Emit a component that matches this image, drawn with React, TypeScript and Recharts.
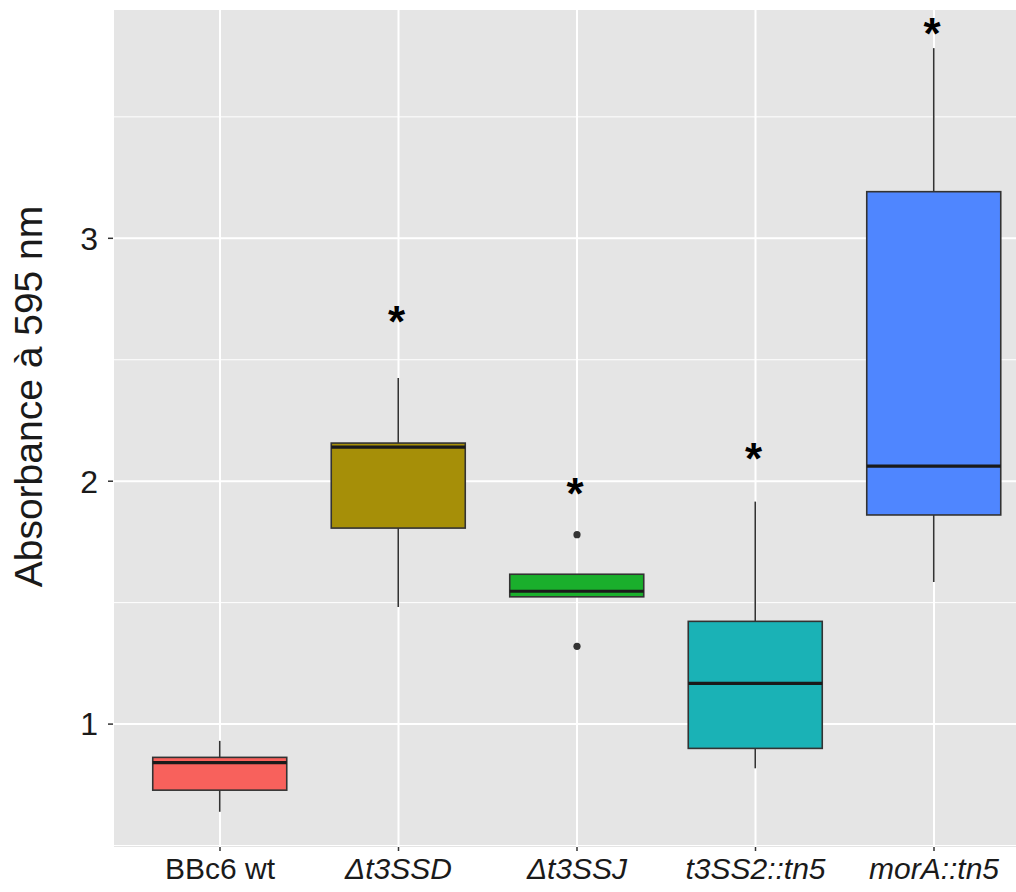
import {
  ComposedChart,
  Bar,
  Line,
  XAxis,
  YAxis,
  CartesianGrid,
} from "recharts";

const categories = ["BBc6 wt", "Δt3SSD", "Δt3SSJ", "t3SS2::tn5", "morA::tn5"];
const italicLabel = [false, true, true, true, true];
const whiskerLow = [0.639, 1.482, 1.524, 0.818, 1.585];
const q1 = [0.728, 1.807, 1.524, 0.9, 1.861];
const median = [0.841, 2.14, 1.547, 1.168, 2.062];
const q3 = [0.863, 2.157, 1.617, 1.423, 3.192];
const whiskerHigh = [0.931, 2.425, 1.617, 1.916, 3.783];
const outlierHigh = [null, null, 1.78, null, null];
const outlierLow = [null, null, 1.32, null, null];
const starAt = [null, 2.677, 1.972, 2.116, 3.866];
const boxColors = ["#F8615C", "#A68F08", "#1AAF2C", "#1AB2B6", "#4F86FF"];

const yTicks = [1, 2, 3];
const yMinor = [0.5, 1.5, 2.5, 3.5];

const data = categories.map((name, i) => ({
  name,
  lo: whiskerLow[i],
  q1: q1[i],
  med: median[i],
  q3: q3[i],
  hi: whiskerHigh[i],
  outHi: outlierHigh[i],
  outLo: outlierLow[i],
  star: starAt[i],
  color: boxColors[i],
}));

// box + whiskers drawn from the range bar (whisker low .. whisker high)
const BoxShape = (props: any) => {
  const { x, y, width, height, payload } = props;
  const top = Math.min(y, y + height);
  const h = Math.abs(height);
  const k = h / (payload.hi - payload.lo);
  const py = (v: number) => top + (payload.hi - v) * k;
  const cx = x + width / 2;
  return (
    <g>
      <line x1={cx} x2={cx} y1={py(payload.hi)} y2={py(payload.q3)} stroke="#333333" strokeWidth={1.6} />
      <line x1={cx} x2={cx} y1={py(payload.q1)} y2={py(payload.lo)} stroke="#333333" strokeWidth={1.6} />
      <rect
        x={x}
        y={py(payload.q3)}
        width={width}
        height={py(payload.q1) - py(payload.q3)}
        fill={payload.color}
        stroke="#333333"
        strokeWidth={1.6}
      />
      <line x1={x} x2={x + width} y1={py(payload.med)} y2={py(payload.med)} stroke="#1A1A1A" strokeWidth={3.2} />
    </g>
  );
};

const OutlierDot = (props: any) => {
  const { cx, cy, value, index } = props;
  if (value == null || cy == null || isNaN(cy)) return <g key={`o-${index}`} />;
  return <circle key={`o-${index}`} cx={cx} cy={cy} r={3.6} fill="#333333" />;
};

const StarDot = (props: any) => {
  const { cx, cy, value, index } = props;
  if (value == null || cy == null || isNaN(cy)) return <g key={`s-${index}`} />;
  return (
    <text
      key={`s-${index}`}
      x={cx - 2}
      y={cy}
      dy="0.47em"
      textAnchor="middle"
      fontSize={44}
      fontWeight="bold"
      fontFamily="'Liberation Sans', Arial, sans-serif"
      fill="#000000"
    >
      *
    </text>
  );
};

const XTick = (props: any) => {
  const { x, y, payload, index } = props;
  return (
    <text
      x={x}
      y={y}
      dy={26}
      textAnchor="middle"
      fontSize={30}
      fontStyle={italicLabel[index] ? "italic" : "normal"}
      fontFamily="'Liberation Sans', Arial, sans-serif"
      fill="#1A1A1A"
    >
      {payload.value}
    </text>
  );
};

const YLabel = (props: any) => {
  const { viewBox } = props;
  const cx = viewBox.x + 42;
  const cy = viewBox.y + viewBox.height / 2 - 32;
  return (
    <text
      x={cx}
      y={cy}
      transform={`rotate(-90, ${cx}, ${cy})`}
      textAnchor="middle"
      fontSize={39}
      fontFamily="'Liberation Sans', Arial, sans-serif"
      fill="#1A1A1A"
    >
      Absorbance à 595 nm
    </text>
  );
};

export default function App() {
  return (
    <div
      style={{
        position: "absolute",
        left: 0,
        top: 0,
        width: 1016,
        height: 892,
        overflow: "hidden",
        background: "#FFFFFF",
      }}
    >
      <ComposedChart
        width={1050}
        height={892}
        data={data}
        margin={{ top: 10, right: 9, left: 0, bottom: 0 }}
      >
        <CartesianGrid
          fill="#E5E5E5"
          fillOpacity={1}
          stroke="#FFFFFF"
          strokeWidth={2}
          horizontalValues={yTicks}
        />
        <CartesianGrid
          stroke="#FFFFFF"
          strokeWidth={1}
          vertical={false}
          horizontalValues={yMinor}
        />
        <XAxis
          dataKey="name"
          height={45}
          padding={{ left: 17.75, right: 17.75 }}
          axisLine={false}
          tickLine={{ stroke: "#333333", strokeWidth: 1.5 }}
          tickSize={4}
          tick={<XTick />}
          interval={0}
        />
        <YAxis
          type="number"
          domain={[0.494, 3.94]}
          allowDataOverflow
          ticks={yTicks}
          width={113}
          axisLine={false}
          tickLine={{ stroke: "#333333", strokeWidth: 1.5 }}
          tickSize={5}
          tickMargin={10}
          tick={{ fontSize: 32, fill: "#1A1A1A", fontFamily: "'Liberation Sans', Arial, sans-serif" }}
          label={<YLabel />}
        />
        <Bar
          dataKey={(d: any) => [d.lo, d.hi]}
          barSize={134}
          shape={<BoxShape />}
          isAnimationActive={false}
        />
        <Line
          dataKey="outHi"
          stroke="none"
          dot={<OutlierDot />}
          activeDot={false}
          isAnimationActive={false}
        />
        <Line
          dataKey="outLo"
          stroke="none"
          dot={<OutlierDot />}
          activeDot={false}
          isAnimationActive={false}
        />
        <Line
          dataKey="star"
          stroke="none"
          dot={<StarDot />}
          activeDot={false}
          isAnimationActive={false}
        />
      </ComposedChart>
    </div>
  );
}
